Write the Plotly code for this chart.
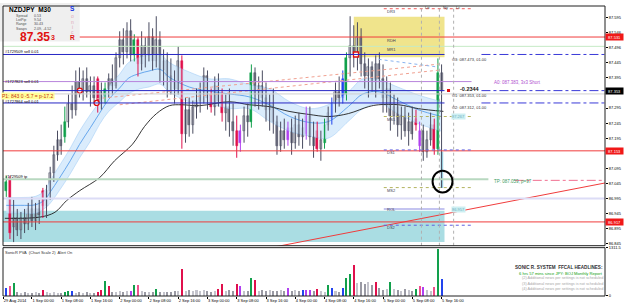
import plotly.graph_objects as go

# ---------------- DATA (hourly bars, k = 0 is 1 Sep 2014 00:00) ----------------
bar_k = list(range(-7, 113))

opens = [87.02, 87.06, 86.90, 86.93, 86.89, 86.93, 86.91, 86.96, 86.92, 86.96,
         87.02, 86.97, 87.02, 87.08, 87.14, 87.19, 87.20, 87.25, 87.31, 87.29,
         87.38, 87.35, 87.39, 87.35, 87.37, 87.39, 87.31, 87.33, 87.36, 87.39,
         87.37, 87.46, 87.52, 87.48, 87.55, 87.47, 87.52, 87.44, 87.50, 87.47,
         87.53, 87.45, 87.52, 87.42, 87.45, 87.40, 87.38, 87.36, 87.45, 87.21,
         87.29, 87.24, 87.30, 87.32, 87.35, 87.40, 87.34, 87.30, 87.37, 87.34,
         87.28, 87.30, 87.25, 87.22, 87.18, 87.22, 87.27, 87.25, 87.41, 87.34,
         87.37, 87.33, 87.29, 87.31, 87.25, 87.17, 87.22, 87.19, 87.23, 87.18,
         87.24, 87.20, 87.21, 87.27, 87.20, 87.22, 87.16, 87.18, 87.24, 87.26,
         87.31, 87.35, 87.33, 87.34, 87.46, 87.50, 87.47, 87.53, 87.44, 87.40,
         87.43, 87.38, 87.44, 87.39, 87.33, 87.36, 87.27, 87.30, 87.24, 87.27,
         87.22, 87.25, 87.26, 87.17, 87.22, 87.15, 87.19, 87.24, 87.16, 87.41]
highs = [87.07, 87.07, 86.99, 86.96, 86.95, 86.96, 86.98, 87.00, 86.98, 86.99,
         87.03, 87.04, 87.10, 87.17, 87.22, 87.24, 87.30, 87.34, 87.37, 87.42,
         87.43, 87.42, 87.43, 87.40, 87.40, 87.40, 87.38, 87.38, 87.41, 87.44,
         87.48, 87.55, 87.56, 87.58, 87.59, 87.54, 87.53, 87.55, 87.53, 87.58,
         87.56, 87.60, 87.55, 87.49, 87.48, 87.46, 87.42, 87.50, 87.47, 87.33,
         87.33, 87.32, 87.36, 87.38, 87.43, 87.42, 87.36, 87.40, 87.41, 87.36,
         87.34, 87.36, 87.31, 87.27, 87.24, 87.30, 87.31, 87.44, 87.43, 87.40,
         87.42, 87.38, 87.34, 87.36, 87.27, 87.25, 87.26, 87.25, 87.26, 87.27,
         87.28, 87.26, 87.30, 87.30, 87.25, 87.25, 87.22, 87.26, 87.30, 87.33,
         87.38, 87.40, 87.42, 87.48, 87.60, 87.57, 87.58, 87.56, 87.48, 87.46,
         87.45, 87.47, 87.48, 87.44, 87.40, 87.38, 87.34, 87.33, 87.30, 87.30,
         87.28, 87.30, 87.29, 87.25, 87.24, 87.22, 87.28, 87.26, 87.46, 87.44]
lows = [87.00, 86.86, 86.85, 86.87, 86.86, 86.88, 86.89, 86.90, 86.89, 86.91,
        86.93, 86.93, 86.99, 87.05, 87.12, 87.14, 87.18, 87.23, 87.26, 87.27,
        87.33, 87.32, 87.33, 87.30, 87.31, 87.28, 87.29, 87.31, 87.33, 87.34,
        87.36, 87.43, 87.44, 87.46, 87.45, 87.45, 87.40, 87.42, 87.43, 87.45,
        87.42, 87.43, 87.38, 87.37, 87.33, 87.34, 87.31, 87.34, 87.16, 87.18,
        87.20, 87.21, 87.26, 87.28, 87.31, 87.29, 87.28, 87.27, 87.30, 87.25,
        87.22, 87.20, 87.17, 87.13, 87.15, 87.18, 87.20, 87.23, 87.30, 87.29,
        87.30, 87.25, 87.22, 87.21, 87.14, 87.15, 87.16, 87.17, 87.14, 87.16,
        87.17, 87.16, 87.19, 87.17, 87.13, 87.15, 87.12, 87.16, 87.22, 87.24,
        87.28, 87.30, 87.31, 87.32, 87.40, 87.43, 87.42, 87.40, 87.36, 87.33,
        87.35, 87.33, 87.36, 87.28, 87.28, 87.22, 87.24, 87.20, 87.19, 87.20,
        87.17, 87.19, 87.22, 87.15, 87.12, 87.13, 87.17, 87.14, 87.14, 87.03]
closes = [87.05, 86.88, 86.93, 86.89, 86.93, 86.91, 86.96, 86.92, 86.96, 86.94,
          86.97, 87.02, 87.08, 87.14, 87.19, 87.17, 87.25, 87.31, 87.29, 87.38,
          87.35, 87.39, 87.35, 87.37, 87.33, 87.31, 87.35, 87.36, 87.39, 87.37,
          87.46, 87.52, 87.48, 87.55, 87.47, 87.52, 87.44, 87.50, 87.47, 87.53,
          87.45, 87.52, 87.42, 87.45, 87.40, 87.38, 87.36, 87.45, 87.21, 87.29,
          87.24, 87.30, 87.32, 87.35, 87.40, 87.33, 87.30, 87.37, 87.32, 87.28,
          87.30, 87.25, 87.22, 87.17, 87.22, 87.27, 87.25, 87.41, 87.34, 87.37,
          87.33, 87.29, 87.31, 87.25, 87.17, 87.22, 87.19, 87.23, 87.18, 87.24,
          87.20, 87.23, 87.27, 87.20, 87.17, 87.16, 87.19, 87.24, 87.28, 87.31,
          87.35, 87.33, 87.39, 87.46, 87.50, 87.47, 87.53, 87.44, 87.40, 87.43,
          87.38, 87.44, 87.39, 87.33, 87.36, 87.27, 87.30, 87.24, 87.27, 87.22,
          87.25, 87.21, 87.24, 87.22, 87.15, 87.19, 87.24, 87.16, 87.41, 87.353]
# PVA colour class of each candle: n normal, g green, r red, b blue, p purple
candle_cls = list("gr" "nnnnnnnn" "r" "nnnnn" "g" "nnnnnnnn" "r" "n" "g" "nnnnnnn"
                  "g" "r" "nnnnnnnnnnn" "r" "nnnnnnn" "r" "nn" "r" "nnn" "rp" "nn"
                  "g" "nnnnnnnnn" "p" "nnnn" "p" "nn" "r" "n" "g" "n" "b" "nn" "bg"
                  "nnnnnnnnnnnnnnnnnn" "rp" "nnn" "rg" "n")

volumes = [224, 280, 364, 112, 84, 112, 84, 90, 110, 80,
           170, 105, 95, 115, 100, 85, 120, 135, 140, 100,
           110, 90, 105, 95, 80, 120, 170, 420, 280, 110,
           130, 140, 120, 135, 150, 310, 310, 140, 120, 130,
           120, 200, 120, 130, 115, 125, 140, 150, 730, 150,
           160, 140, 170, 150, 165, 145, 130, 140, 200, 340,
           150, 160, 150, 340, 280, 140, 150, 500, 450, 140,
           165, 150, 170, 140, 150, 165, 140, 230, 150, 160,
           140, 170, 175, 170, 140, 200, 150, 120, 310, 230,
           140, 130, 230, 510, 600, 850, 370, 395, 340, 390,
           310, 395, 220, 170, 200, 395, 190, 170, 150, 195,
           165, 150, 200, 280, 255, 170, 150, 250, 1290, 480]
vol_cls = list("bkg" "nnnnnnn" "r" "nnnnn" "ggb" "nnnnnn" "rrgr" "nnnnn" "pgk" "nnnn"
               "g" "nnnnnn" "r" "nnnnnnnnn" "rr" "nnn" "rp" "nn" "gr" "nnnnnnnn" "p"
               "nnn" "bppn" "r" "nn" "gb" "nn" "bggr" "nnnnn" "r" "nnn" "g" "nnnnnn"
               "gkp" "nn" "kgb")

# Sonic R dragon band (EMA34 high / low / close) and slow EMA
band_k = [-7, -3, 1, 3.5, 5, 7.5, 10.5, 13, 16, 18.5, 21, 24, 26.5, 29.5, 32, 35, 37.5, 43,
          48.5, 54, 59.5, 65, 70.5, 76, 81, 86.5, 90.5, 95, 100, 105.5, 112]
band_hi = [86.998, 86.998, 87.002, 87.021, 87.054, 87.103, 87.162, 87.218, 87.274, 87.316,
           87.365, 87.408, 87.447, 87.464, 87.470, 87.474, 87.447, 87.415, 87.392, 87.392,
           87.372, 87.359, 87.316, 87.293, 87.306, 87.349, 87.392, 87.388, 87.365, 87.339, 87.316]
band_lo = [86.946, 86.946, 86.946, 86.962, 86.979, 87.021, 87.077, 87.129, 87.185, 87.241,
           87.284, 87.316, 87.343, 87.359, 87.365, 87.375, 87.349, 87.316, 87.310, 87.293,
           87.293, 87.251, 87.218, 87.202, 87.195, 87.251, 87.293, 87.310, 87.277, 87.244, 87.218]
band_mid = [86.972, 86.972, 86.974, 86.990, 87.016, 87.062, 87.120, 87.174, 87.230, 87.278,
            87.324, 87.362, 87.395, 87.410, 87.418, 87.424, 87.398, 87.365, 87.351, 87.342,
            87.332, 87.305, 87.267, 87.247, 87.250, 87.300, 87.342, 87.349, 87.321, 87.290, 87.267]
ema_k = [-7.4, 2.2, 6.3, 9.5, 13.1, 18.5, 22.6, 27.5, 30.8, 34.1, 37.6, 40.9, 45.8, 54, 59.4,
         64.9, 70.3, 75.7, 81.2, 86.6, 92.1, 94.8, 100.3, 105.7, 112.5]
ema_slow = [86.929, 86.933, 86.949, 86.988, 87.021, 87.064, 87.120, 87.175, 87.234, 87.277,
            87.303, 87.306, 87.303, 87.316, 87.306, 87.300, 87.284, 87.274, 87.267, 87.277,
            87.300, 87.306, 87.306, 87.293, 87.284]

# price levels
red_levels = [87.531, 87.153, 86.917]
mr1_level = 87.500
order_levels = [87.473, 87.353, 87.312]
order_tags = ["O3: 087.473, 01.00", "O1: 087.353, 01.00", "O2: 087.312, 01.00"]
avg_level = 87.383
ask_level = 87.342
tp_level = 87.059
lav_level = 86.995
rol_level = 86.960
pivot_names = ["DR3", "MS1", "DS1", "MS2", "DS2"]
pivot_levels = [87.625, 87.267, 87.156, 87.031, 86.906]
tag_prices = [87.531, 87.353, 87.153, 86.917]
price_ticks = [87.595, 87.546, 87.496, 87.445, 87.395, 87.295, 87.245, 87.195,
               87.095, 87.045, 86.995, 86.945, 86.895, 86.845]
diag_k = [60, 157]
diag_p = [86.819, 87.047]
trend_a_k, trend_a_p = [17.7, 111.2], [87.326, 87.441]
trend_b_k, trend_b_p = [24.0, 111.2], [87.306, 87.421]
trend_c_k, trend_c_p = [94.8, 111.2], [87.457, 87.431]
trade_k = [13.1, 17.7, 88.6]
trade_p = [87.353, 87.312, 87.473]
session_k = [106.5, 111.4, 115.3]
session_names = ["Lo", "Ny", "Lc"]
yellow_zone = dict(k0=88.0, k1=112.8, p0=87.464, p1=87.598)
cyan_zone = dict(k0=-7.9, k1=112.8, p0=86.850, p1=86.954)
tick_k = [-7.8, 0, 8, 16, 24, 32, 40, 48, 56, 64, 72, 80, 88, 96, 104, 112]
tick_text = ["29 Aug 2014", "1 Sep 00:00", "1 Sep 08:00", "1 Sep 16:00", "2 Sep 00:00",
             "2 Sep 08:00", "2 Sep 16:00", "3 Sep 00:00", "3 Sep 08:00", "3 Sep 16:00",
             "4 Sep 00:00", "4 Sep 08:00", "4 Sep 16:00", "5 Sep 00:00", "5 Sep 08:00",
             "5 Sep 16:00"]
VOL_MAX = 1311.5

# ---------------- GEOMETRY ----------------
W, H = 625, 306
ML, MR, MT, MB = 3, 18, 3, 9
PW, PH = W - ML - MR, H - MT - MB
def px(x): return (x - ML) / PW
def py(y): return (H - MB - y) / PH
X_RANGE = [-7.9, 156.68]
Y_RANGE = [86.838, 87.634]
MAIN_BOTTOM = py(246)
SUB_TOP = py(248)
FONT = "Liberation Sans"
K0, K1 = X_RANGE

fig = go.Figure()
NOH = dict(hoverinfo="skip", showlegend=False)

# dragon band
fig.add_trace(go.Scatter(x=band_k, y=band_lo, mode="lines", line_shape="spline",
                         line=dict(color="rgba(150,198,244,0.8)", width=0.6), **NOH))
fig.add_trace(go.Scatter(x=band_k, y=band_hi, mode="lines", line_shape="spline", fill="tonexty",
                         fillcolor="rgba(205,230,251,0.75)",
                         line=dict(color="rgba(150,198,244,0.8)", width=0.6), **NOH))
fig.add_trace(go.Scatter(x=band_k, y=band_mid, mode="lines", line_shape="spline",
                         line=dict(color="#4a96e8", width=0.8), **NOH))
fig.add_trace(go.Scatter(x=ema_k, y=ema_slow, mode="lines", line_shape="spline",
                         line=dict(color="#1e1e1e", width=0.9), **NOH))

# candles
CLS = {"g": "#12a04c", "r": "#e0104c", "b": "#2244ee", "p": "#b040f0", "k": "#f0508c"}
styles = {"up": ("#4a4c60", "#d6d6da"), "dn": ("#4a4c60", "#8e8e98")}
for c in "grbp":
    styles[c] = (CLS[c], CLS[c])
groups = {}
for k, o, h, l, c, cl in zip(bar_k, opens, highs, lows, closes, candle_cls):
    key = ("up" if c >= o else "dn") if cl == "n" else cl
    groups.setdefault(key, []).append((k, o, h, l, c))
for key, items in groups.items():
    lc, fc = styles[key]
    wx, wy = [], []
    for k, o, h, l, c in items:
        wx += [k, k, None]
        wy += [l, h, None]
    fig.add_trace(go.Scatter(x=wx, y=wy, mode="lines", line=dict(color=lc, width=1), **NOH))
    fig.add_trace(go.Bar(x=[it[0] for it in items],
                         base=[min(it[1], it[4]) for it in items],
                         y=[max(abs(it[4] - it[1]), 0.004) for it in items],
                         width=0.55, marker=dict(color=fc, line=dict(color=lc, width=0.5)), **NOH))

# trend lines
fig.add_trace(go.Scatter(x=diag_k, y=diag_p, mode="lines", line=dict(color="#f03c3c", width=1), **NOH))
for tk, tp in [(trend_a_k, trend_a_p), (trend_b_k, trend_b_p)]:
    fig.add_trace(go.Scatter(x=tk, y=tp, mode="lines", line=dict(color="#f0a090", width=1, dash="dot"), **NOH))
fig.add_trace(go.Scatter(x=trend_c_k, y=trend_c_p, mode="lines",
                         line=dict(color="#8ab4f0", width=1, dash="dot"), **NOH))
# trade markers
fig.add_trace(go.Scatter(x=trade_k, y=trade_p, mode="markers",
                         marker=dict(symbol=["circle", "circle", "square"], size=5, color="white",
                                     line=dict(color="#e01010", width=1.3)), **NOH))
fig.add_trace(go.Scatter(x=[113.9], y=[closes[-1]], mode="markers",
                         marker=dict(symbol="square", size=3, color="#e01010"), **NOH))

# volume panel
vcols = []
for cl, o, c in zip(vol_cls, opens, closes):
    vcols.append(CLS[cl] if cl != "n" else ("#c4c4cc" if c >= o else "#9a9aa4"))
fig.add_trace(go.Bar(x=bar_k, y=volumes, yaxis="y2", width=0.55, marker=dict(color=vcols, line_width=0), **NOH))

# ---------------- SHAPES ----------------
shapes = []
def hline(p, color, k0=K0, k1=K1, width=1, dash="solid", layer="above"):
    shapes.append(dict(type="line", xref="x", yref="y", x0=k0, x1=k1, y0=p, y1=p,
                       line=dict(color=color, width=width, dash=dash), layer=layer))

shapes.append(dict(type="rect", xref="x", yref="y", x0=yellow_zone["k0"], x1=yellow_zone["k1"],
                   y0=yellow_zone["p0"], y1=yellow_zone["p1"], fillcolor="#f0e48c", line_width=0, layer="below"))
shapes.append(dict(type="rect", xref="x", yref="y", x0=cyan_zone["k0"], x1=cyan_zone["k1"],
                   y0=cyan_zone["p0"], y1=cyan_zone["p1"], fillcolor="#aadde3", line_width=0, layer="below"))
shapes.append(dict(type="rect", xref="x", yref="y", x0=111.7, x1=112.45, y0=87.03, y1=87.15,
                   fillcolor="#9fd6e6", line_width=0, layer="below"))

for p in red_levels:
    hline(p, "#f03c3c")
hline(mr1_level, "#c6eac6")
hline(ask_level, "#cfcfcf")
hline(lav_level, "#dcdcf6", width=2)
hline(rol_level, "#c4c4f0", k0=96.2, k1=112.8, width=2)
for p in order_levels:
    hline(p, "#2626c4", k1=112.8)
    hline(p, "#3a3ad8", k0=122.9, dash="dashdot")
hline(avg_level, "#b884dc", k1=120.2)
hline(tp_level, "#b8d8c0", k1=124.8, width=2)
hline(tp_level - 0.004, "#f07090", k0=132.0, dash="dashdot")
pivot_cols = ["#f06060", "#b4b460", "#6060e0", "#b4b460", "#6060e0"]
for p, col in zip(pivot_levels, pivot_cols):
    hline(p, col, k0=96.2, k1=120.2, dash="dot")
for sk in session_k:
    shapes.append(dict(type="line", xref="x", yref="paper", x0=sk, x1=sk, y0=MAIN_BOTTOM, y1=1,
                       line=dict(color="#b0b0b0", width=1, dash="dot"), layer="above"))
# black circle highlighting the wick
shapes.append(dict(type="circle", xref="paper", yref="paper", x0=px(434), x1=px(454),
                   y0=py(192), y1=py(170), line=dict(color="black", width=2)))
# info box
shapes.append(dict(type="rect", xref="paper", yref="paper", x0=px(0), x1=px(80), y0=py(39), y1=py(0),
                   fillcolor="#efefef", line_width=0, layer="above"))
# panel frames
shapes.append(dict(type="rect", xref="paper", yref="paper", x0=0, x1=1, y0=MAIN_BOTTOM, y1=1,
                   line=dict(color="#202020", width=1)))
shapes.append(dict(type="rect", xref="paper", yref="paper", x0=0, x1=1, y0=0, y1=SUB_TOP,
                   line=dict(color="#202020", width=1)))

# ---------------- ANNOTATIONS ----------------
ann = []
def label(x, y, s, size=4, color="#000000", xanchor="left", bg=None, bold=False):
    a = dict(xref="paper", yref="paper", x=px(x), y=py(y), text=f"<b>{s}</b>" if bold else s,
             showarrow=False, xanchor=xanchor, yanchor="middle",
             font=dict(family=FONT, size=size, color=color), borderpad=0)
    if bg:
        a["bgcolor"] = bg
    ann.append(a)

# info box
label(8, 6.5, "NZDJPY  M30", size=6.5, bold=True)
for yy, name, val in [(12.7, "Spread", "0.53"), (17.3, "LotPip", "9.54"),
                      (21.7, "Range", "30.43"), (26, "Swaps", "2.09, -4.52")]:
    label(15, yy, name, size=3.6, color="#505050")
    label(33, yy, val, size=3.6, color="#505050")
label(19, 34, "87.35", size=12, color="#e01010", bold=True)
label(50.5, 35, "3", size=7, color="#e01010", bold=True)
for yy, ch, col, sz, b in [(6, "S", "#1030e0", 6.5, True), (13, "o", "#e0a8b8", 5, False),
                           (19, "n", "#e0a8b8", 5, False), (24.5, "i", "#e0a8b8", 5, False),
                           (29.5, "c", "#e0a8b8", 5, False), (35, "R", "#e01010", 6.5, True)]:
    label(73, yy, ch, size=sz, color=col, xanchor="center", bold=b)

# order labels (left)
label(4, 49.5, "#1729509 sell 0.01")
label(4, 79.5, "#1727823 sell 0.01")
label(1, 94, "P1: 843 0 -5.7 = p-17.2", size=5, color="#c83010", bg="#ffff9a")
label(4, 99.5, "#1727864 sell 0.01")
label(4, 176, "#1729509 tp")
# right-hand labels
for yy, t in zip([57, 93.5, 106], order_tags):
    label(452, yy, t, color="#303030")
label(461, 87, "-0.2344", size=5.5, color="#202020", bold=True)
label(495, 80.5, "A0: 087.383, 3x3 Short", size=4.5, color="#b050d0")
label(495, 180.5, "TP: 087.059, p=97", size=4.5, color="#3a9a60")
label(452, 115, "87.267", color="#70b0c0", bg="#cdeff2")
label(452, 209, "86.957", color="#70b0c0", bg="#cdeff2")
for yy, t in [(9, "DR3"), (38, "RDH"), (47, "MR1"), (118, "MS1"), (152, "DS1"),
              (190, "MS2"), (209, "ROL"), (228, "DS2")]:
    label(387, yy, t, color="#404050")
for xx, t in zip([425, 443, 457], session_names):
    label(xx, 5, t, color="#404040")
# indicator panel texts
label(4, 252.5, "SonicR PVA  (Chart Scale 2)  Alert On", color="#303030")
label(606, 268.5, "SONIC R. SYSTEM  FFCAL HEADLINES:", size=4.6, color="#303030", xanchor="right", bold=True)
label(606, 274, "6 hrs 57 mins since JPY: BOJ Monthly Report", size=4.1, color="#10a010", xanchor="right")
for i, yy in enumerate([279, 284.5, 290]):
    label(606, yy, f"({i + 2}) Additional news per settings is not scheduled", size=3.8,
          color="#a8a8a8", xanchor="right")
# price tags on the axis
for p, col in zip(tag_prices, ["#f01818", "#000000", "#f01818", "#f01818"]):
    ann.append(dict(xref="paper", yref="y", x=1.0, y=p, text=f"{p:.3f}", showarrow=False,
                    xanchor="left", yanchor="middle", font=dict(family=FONT, size=4, color="white"),
                    bgcolor=col, borderpad=0.6, width=16))

axfont = dict(family=FONT, size=4, color="#000000")
fig.update_layout(
    width=W, height=H, margin=dict(l=ML, r=MR, t=MT, b=MB, pad=0),
    paper_bgcolor="white", plot_bgcolor="white", showlegend=False,
    barmode="overlay", bargap=0, hovermode=False,
    xaxis=dict(domain=[0, 1], range=X_RANGE, anchor="y2", tickvals=tick_k, ticktext=tick_text,
               ticks="outside", ticklen=2, tickcolor="#000", tickfont=axfont,
               ticklabelposition="outside right", tickangle=0, showgrid=False, zeroline=False,
               showline=False),
    yaxis=dict(domain=[MAIN_BOTTOM, 1], range=Y_RANGE, side="right", anchor="x",
               tickvals=price_ticks, ticktext=[f"{v:.3f}" for v in price_ticks],
               ticks="outside", ticklen=2, tickcolor="#000", tickfont=axfont,
               showgrid=False, zeroline=False, showline=False),
    yaxis2=dict(domain=[0, SUB_TOP], range=[0, VOL_MAX], side="right", anchor="x",
                tickvals=[0, VOL_MAX], ticktext=["0", "1311.5"], ticks="outside", ticklen=2,
                tickcolor="#000", tickfont=axfont, showgrid=False, zeroline=False, showline=False),
    shapes=shapes, annotations=ann,
)
fig.write_html("out.html", config={"displayModeBar": False})
